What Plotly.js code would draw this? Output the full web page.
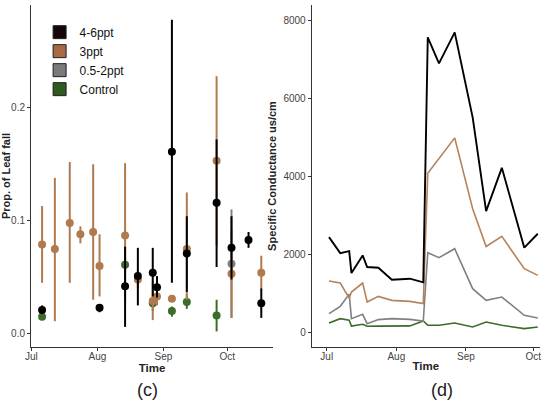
<!DOCTYPE html>
<html>
<head>
<meta charset="utf-8">
<script src="https://cdn.plot.ly/plotly-3.0.1.min.js"></script>
<style>html,body{margin:0;padding:0;background:#fff;}#chart{width:550px;height:405px;}</style>
</head>
<body>
<div id="chart"></div>
<script>
// ---------- Panel (c): proportion of leaf fall ----------
const groups = ["4-6ppt", "3ppt", "0.5-2ppt", "Control"];
const groupColors = ["#000000", "#B07A4F", "#808080", "#3D6B2A"];
const legendColors = ["#140606", "#A86A45", "#7a7a7a", "#2E5A1E"];

const hiDates = ["2019-07-06","2019-08-02","2019-08-14","2019-08-20","2019-08-27","2019-08-29","2019-09-05","2019-09-12","2019-09-26","2019-10-03","2019-10-11","2019-10-17"];
const hiMean  = [0.021, 0.023, 0.042, 0.051, 0.054, 0.041, 0.161, 0.071, 0.116, 0.076, 0.083, 0.027];
const hiLow   = [0.018, 0.019, 0.006, 0.025, 0.033, 0.032, 0.045, 0.037, 0.059, 0.048, 0.076, 0.014];
const hiHigh  = [0.025, 0.026, 0.077, 0.076, 0.076, 0.051, 0.278, 0.104, 0.172, 0.104, 0.090, 0.040];

const midDates = ["2019-07-06","2019-07-12","2019-07-19","2019-07-24","2019-07-30","2019-08-02","2019-08-14","2019-08-20","2019-08-27","2019-08-29","2019-09-05","2019-09-12","2019-09-26","2019-10-03","2019-10-17"];
const midMean  = [0.079, 0.075, 0.098, 0.088, 0.090, 0.060, 0.087, 0.048, 0.029, 0.033, 0.031, 0.075, 0.153, 0.053, 0.054];
const midLow   = [0.045, 0.011, 0.045, 0.080, 0.030, 0.033, 0.030, 0.040, 0.012, 0.025, 0.028, 0.030, 0.078, 0.014, 0.039];
const midHigh  = [0.113, 0.138, 0.152, 0.095, 0.150, 0.088, 0.151, 0.056, 0.046, 0.041, 0.034, 0.125, 0.228, 0.092, 0.069];

const lowDates = ["2019-10-03"];
const lowMean  = [0.062];
const lowLow   = [0.014];
const lowHigh  = [0.110];

const ctlDates = ["2019-07-06","2019-08-14","2019-08-27","2019-09-05","2019-09-12","2019-09-26"];
const ctlMean  = [0.015, 0.061, 0.027, 0.020, 0.028, 0.016];
const ctlLow   = [0.013, 0.055, 0.020, 0.015, 0.022, 0.002];
const ctlHigh  = [0.017, 0.067, 0.034, 0.024, 0.034, 0.030];

// ---------- Panel (d): specific conductance ----------
const condDates = ["2019-07-02","2019-07-07","2019-07-11","2019-07-12","2019-07-17","2019-07-19","2019-07-24","2019-07-30","2019-08-07","2019-08-13","2019-08-15","2019-08-20","2019-08-27","2019-09-04","2019-09-10","2019-09-17","2019-09-27","2019-10-03"];
const condHi   = [2444, 2033, 2085, 1521, 1974, 1675, 1659, 1351, 1377, 1282, 7572, 6905, 7700, 5520, 3110, 4223, 2172, 2530];
const condMid  = [1316, 1265, 880, 1034, 1265, 777, 923, 820, 795, 736, 4085, 4453, 4992, 3171, 2205, 2462, 1633, 1462];
const condLow  = [479, 667, 980, 351, 462, 223, 326, 351, 333, 290, 2044, 1915, 2146, 1120, 820, 905, 436, 367];
const condCtl  = [238, 351, 308, 162, 205, 154, 160, 165, 165, 290, 180, 180, 238, 136, 264, 180, 95, 136];

const monthTicks = ["2019-07-01","2019-08-01","2019-09-01","2019-10-01"];
const monthLabels = ["Jul","Aug","Sep","Oct"];
const yTicksC = [0.0, 0.1, 0.2];
const yLabelsC = ["0.0", "0.1", "0.2"];
const yTicksD = [0, 2000, 4000, 6000, 8000];

const FONT = "Liberation Sans, Arial, sans-serif";

function errTrace(dates, mean, low, high, color) {
  return {
    type: "scatter", mode: "markers", x: dates, y: mean,
    xaxis: "x", yaxis: "y", showlegend: false, hoverinfo: "x+y",
    marker: {color: color, size: 8},
    error_y: {
      type: "data", symmetric: false,
      array: high.map((h, i) => h - mean[i]),
      arrayminus: mean.map((m, i) => m - low[i]),
      color: color, thickness: 2, width: 0
    }
  };
}

const traces = [];
// legend entries (square keys)
groups.forEach((g, i) => {
  traces.push({
    type: "scatter", mode: "markers", x: [null], y: [null], xaxis: "x", yaxis: "y",
    name: g, showlegend: true,
    marker: {symbol: "square", size: 13, color: legendColors[i], line: {color: "#222", width: 1}}
  });
});
traces.push(errTrace(ctlDates, ctlMean, ctlLow, ctlHigh, groupColors[3]));
traces.push(errTrace(lowDates, lowMean, lowLow, lowHigh, groupColors[2]));
traces.push(errTrace(midDates, midMean, midLow, midHigh, groupColors[1]));
traces.push(errTrace(hiDates, hiMean, hiLow, hiHigh, groupColors[0]));

const condSeries = [condCtl, condLow, condMid, condHi];
const condColors = [groupColors[3], groupColors[2], "#B5825A", groupColors[0]];
const condWidths = [1.6, 1.6, 1.6, 1.9];
condSeries.forEach((s, i) => {
  traces.push({
    type: "scatter", mode: "lines", x: condDates, y: s,
    xaxis: "x2", yaxis: "y2", showlegend: false,
    line: {color: condColors[i], width: condWidths[i]}
  });
});

const axisCommon = {
  showgrid: false, zeroline: false, showline: true, linecolor: "#333", linewidth: 1,
  ticks: "outside", ticklen: 3, tickcolor: "#333", tickwidth: 1,
  tickfont: {family: FONT, size: 10, color: "#444"}
};

const layout = {
  width: 550, height: 405,
  margin: {l: 0, r: 0, t: 5, b: 58},
  paper_bgcolor: "#fff", plot_bgcolor: "#fff",
  font: {family: FONT},
  showlegend: true,
  legend: {
    x: 0.072, y: 0.963, xanchor: "left", yanchor: "top",
    font: {family: FONT, size: 12, color: "#111"},
    bgcolor: "rgba(0,0,0,0)", itemwidth: 30, tracegroupgap: 0
  },
  xaxis: Object.assign({}, axisCommon, {
    type: "date", domain: [31/550, 273/550],
    range: ["2019-06-30 19:00", "2019-10-22 12:00"],
    tickmode: "array", tickvals: monthTicks, ticktext: monthLabels,
    ticklabelstandoff: -3,
    title: {text: "<b>Time</b>", font: {family: FONT, size: 11.5, color: "#222"}, standoff: 0},
    anchor: "y"
  }),
  yaxis: Object.assign({}, axisCommon, {
    range: [-0.0118, 0.291], domain: [0, 1],
    tickmode: "array", tickvals: yTicksC, ticktext: yLabelsC,
    title: {text: "<b>Prop. of Leaf fall</b>", font: {family: FONT, size: 11, color: "#222"}, standoff: 5},
    anchor: "x"
  }),
  xaxis2: Object.assign({}, axisCommon, {
    type: "date", domain: [311.7/550, 540/550],
    range: ["2019-06-24 07:00", "2019-10-04 00:00"],
    tickmode: "array", tickvals: monthTicks, ticktext: monthLabels,
    ticklabelstandoff: -3,
    title: {text: "<b>Time</b>", font: {family: FONT, size: 11.5, color: "#222"}, standoff: 0},
    anchor: "y2"
  }),
  yaxis2: Object.assign({}, axisCommon, {
    range: [-377, 8403], domain: [0, 1],
    tickmode: "array", tickvals: yTicksD,
    title: {text: "<b>Specific Conductance us/cm</b>", font: {family: FONT, size: 11, color: "#222"}, standoff: 4},
    anchor: "x2"
  }),
  annotations: [
    {text: "(c)", xref: "paper", yref: "paper", x: 147/550, y: (347-390)/342, xanchor: "center", yanchor: "middle", showarrow: false, font: {family: FONT, size: 18, color: "#222"}},
    {text: "(d)", xref: "paper", yref: "paper", x: 442/550, y: (347-390)/342, xanchor: "center", yanchor: "middle", showarrow: false, font: {family: FONT, size: 18, color: "#222"}}
  ]
};

Plotly.newPlot("chart", traces, layout, {staticPlot: true, displayModeBar: false});
</script>
</body>
</html>
